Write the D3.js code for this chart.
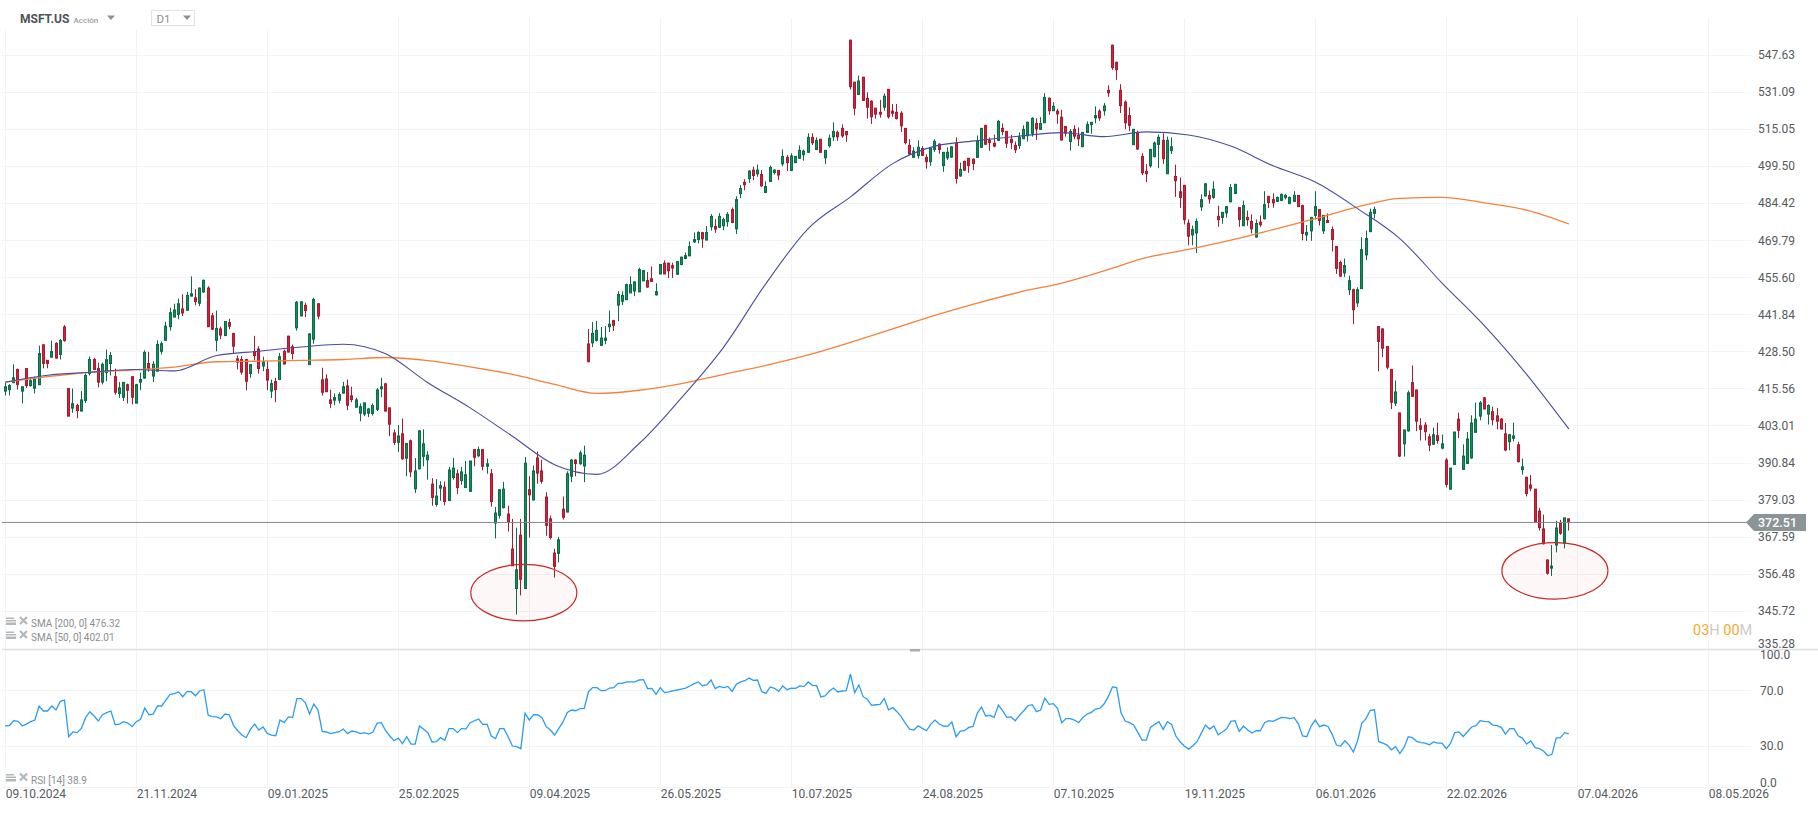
<!DOCTYPE html>
<html>
<head>
<meta charset="utf-8">
<title>MSFT.US D1</title>
<script src="https://cdn.jsdelivr.net/npm/d3@7"></script>
<style>
    html, body { margin: 0; padding: 0; background: #fff; }
    svg { display: block; }
    text { font-family: Roboto, sans-serif; }
    .grid line { stroke: #f2f3f4; shape-rendering: crispEdges; }
    .grid path { display: none; }
    .axis path { display: none; }
    .axis text { font-size: 12px; fill: #555b60; }
    .legend { font-size: 10px; fill: #8b8f92; }
</style>
</head>
<body>
<div id="chart"></div>
<script>

// Chart data
// ================================
var priceTicks = [547.63, 531.09, 515.05, 499.50, 484.42, 469.79, 455.60, 441.84, 428.50, 415.56, 403.01, 390.84, 379.03, 367.59, 356.48, 345.72, 335.28];
var rsiTicks = [100, 70, 30, 0];
var dateLabels = ["09.10.2024", "21.11.2024", "09.01.2025", "25.02.2025", "09.04.2025", "26.05.2025", "10.07.2025", "24.08.2025", "07.10.2025", "19.11.2025", "06.01.2026", "22.02.2026", "07.04.2026", "08.05.2026"];
var barsPerDateLabel = 31;

var opens = [414.8,415.3,417.7,422.3,414.8,422.6,416.7,415.8,417,431,
425.5,426.6,431.5,427.6,437.4,415.7,409,409.9,408,411.6,
420.9,425.8,422.6,417.9,421.2,424.4,419.8,414,412.7,417,
419.8,410.7,417.9,419.3,424.4,420,421.7,428.7,432.6,437.5,
441,442,444,443.5,448.7,448.1,446.1,450.3,451.7,441.5,
432.6,436.7,434.3,439,435.1,426,425.8,425.8,420.9,428.6,
429.5,423.5,422.3,414.8,418.1,418.8,428.7,434.1,430.3,437.1,
441.4,445.3,424,433,445.9,418.7,419,411.8,411.7,411.7,
414.1,416.6,413.2,409.3,407.3,407,407.3,407.2,408.6,415.6,
417.3,409.1,400.7,397.6,400.4,392.4,398.1,382.6,389,393,
391.9,384.1,377.7,382.8,383.1,378.9,386.2,387.4,385.2,383,
381.8,395.2,393.2,395.2,389.8,387.4,371.9,374.3,376.7,374.7,
364,352.3,368.2,352.3,382.3,379.1,392.5,388.3,380,373.2,
362.8,362.7,376.2,375.3,386.6,391.8,390.6,389.9,431.3,431.7,
432.6,430.8,432.6,437.5,439.7,445.4,446.8,447.4,449.9,450.6,
450.3,454.4,454.5,455.2,449.2,457,461.1,461.1,460.2,456.9,
460.6,462.9,463.9,469.3,470.2,472.9,470,475.2,475.3,475,
475.6,477.2,482,474.4,488.4,493,494.5,498,496.5,496.2,
488.9,493.4,497,497.9,500.6,503.3,497.9,501.1,502.9,504.4,
505.4,511.7,506.6,510.9,503.1,508.2,511.9,513.8,515.5,514.2,
554.5,535.6,530.2,537.8,528.5,527.2,524.2,522.4,524.6,532.4,
522.9,522.4,522,515.5,508.3,503.3,504,507,503.3,501.5,
506.6,508.8,499.9,503.1,503.4,509.2,495.6,501.6,502.9,502.5,
503.3,507.5,516.8,510.6,509.2,510.4,515.5,514.2,510.9,508.3,
508.2,511.1,512.4,513.4,517.6,515.1,517.9,528.5,523.1,522.9,
520.3,516.3,509.9,515.1,512.5,507.8,513.8,517.1,520,522.9,
523.1,532,552.2,544.5,532,526.8,521,508.6,513.4,503.7,
497.5,499.8,503.6,508.7,510.4,496.5,506.1,495.4,489.2,491.8,
476.6,472,472.8,483.1,487.5,487.7,486.9,479.3,478.9,480.7,
485.1,488.5,482.8,475.6,478.9,477.3,471.2,477,478.4,487.3,
486,485.3,485.7,486.8,484.4,485.3,487.7,483.6,472,473.6,
479.7,482,473.6,477.7,474.1,467.5,461.4,457.4,451.1,451.1,
446.2,451.5,464.3,473.3,480.5,437.6,436.7,430.4,422.3,410.7,
407.4,397.1,401.4,417.7,415.2,403.1,403.3,399.4,397,399.8,
395.7,391.8,382.5,390.4,405.3,388.8,390.7,392.5,400.9,406.3,
412.5,407,407.8,406.4,405.3,400.4,397.8,398.9,396.8,388.7,
386.3,383.8,382.5,375.6,370.1,360.7,358.3,365.2,371.9,365.8,
373.2];

var highs = [417.7,417.2,424.1,422.6,416.3,422.7,419.4,419.7,430.7,431.1,
425.6,432.5,431.9,433.1,438.1,415.7,415.7,410.5,414.8,420.9,
426.8,426.4,424.7,424.7,429.3,428.4,422.6,417.9,418,417.4,
419.8,417.3,421.2,429,428.5,425.2,432.6,432.2,439.3,444.4,
445.9,447.8,449.4,450.3,456.1,451.3,451.9,454.9,452.4,442.5,
443.4,437.5,439.4,440.4,435.1,427.2,427,426,424.1,434.2,
430.5,426.8,425.2,418.8,419.4,428.1,429.3,434.2,431.1,446.9,
446.8,446.3,435.1,448.1,446.1,422.9,420.6,415.3,414,414.4,
418,418.8,416.3,412.5,410.6,410.8,409.1,410.6,415.9,419.4,
417.7,409.1,401.8,403.3,405.5,397.4,398.5,392.5,401.6,401.9,
394.7,386,385.7,385,384.9,389.6,392.5,388.7,389.6,391.5,
391.5,395.2,396.2,395.2,392.3,388.9,376.9,382.5,384.8,377.3,
373.2,370.5,373.2,392.8,386.6,390,394.6,391.9,381.5,374.2,
364.1,367.7,380.2,388.2,392.1,392.1,394.9,396.5,436.7,439.2,
439.6,437.4,437.7,443.4,440,450.5,450.5,453.4,456.1,454.2,
459.4,458.4,457.8,459.9,453.5,460.6,462.2,461.3,461.3,462,
463.6,465.2,469.5,473,473.4,473.2,475.5,480.2,478.3,480.6,
478.8,481,482.8,487.4,491.9,494.3,498,499.4,500.3,498,
493.4,499.9,498.4,498,506.6,504.3,505,503.7,508.3,506.6,
513.4,513.4,511.7,510.9,506.2,512.9,518.1,514.6,517.2,514.2,
554.8,535.6,538.5,537.8,531.1,527.6,524.2,527.8,530.6,532.4,
526,526,522.9,515.5,510.9,507.5,510.4,508,504.6,507,
510.9,509.2,505.4,507.5,507.9,511.7,501.1,502,502.9,502.9,
512.5,515.5,516.8,511.7,512.9,519.1,517.6,514.3,512.7,509.9,
513.8,516.8,518.4,520.3,519.8,520.3,530.7,528.9,526.8,523.9,
523.5,516.3,515.2,516.8,515.9,513.8,518.5,518.1,525,523.7,
526.4,534.2,552.5,544.5,534.7,527.6,524.6,515.1,514.6,505,
500.5,506.6,509.9,512.9,513.4,512,511.7,500.3,495,491.8,
478.1,475.7,478.5,488.1,492.7,489.7,493.4,483.6,480.9,483.2,
492.3,492.2,482.8,485.6,481.6,480.1,478.1,479.7,489.4,487.3,
488.5,487.2,488.5,488.3,487.2,489.4,487.7,484,475.9,479.1,
489.4,482,479.7,480.5,475.3,467.5,462.1,462.9,456.4,451.5,
452,471.1,473.7,482.4,483.2,437.7,436.9,430.6,422.3,418.5,
407.4,401.7,415,423.7,415.3,405.6,404.3,400.4,402.5,404.1,
400.2,392.5,389.2,401,407.5,396.9,401,406.6,410.9,411.4,
412.8,410.3,409.5,409,405.7,404,400.4,404.1,397.8,392.3,
386.3,387,382.5,376.6,374.5,361,365.2,372.6,372.9,373.5,
373.3];

var lows = [413.3,413.3,417.7,415.3,410.6,415.9,416.3,414,417,422.7,
422.7,426.6,426.1,425.8,432.1,406.3,407.4,405.6,408,410.7,
420.2,422.1,416.1,417.1,418.2,420.2,413.6,412.5,411.4,410.6,
410.3,410.7,415.1,419.1,421.5,417.9,421.7,427.6,432.6,436.1,
441,440.2,441.4,443.5,448.7,445.3,445,449.9,437.5,436.3,
428.7,433,434.3,436.6,428.1,422.3,420.5,415.1,419.4,425.5,
420.9,421.7,415.1,412.4,411,418.6,424.1,428.4,425.8,436.1,
441.4,441,424,431.4,440.2,413.3,414.6,409,410,410.6,
414.1,408.3,411,409.3,404.6,406.3,406,406.5,408,412.7,
408,399.6,396.7,394.4,391.9,386.6,386.3,381.3,388.8,389.8,
385.5,377.3,377,378.8,377.4,378.9,385.5,381,383.9,383,
381.8,389.8,392.7,388.5,387.4,377,367.2,373.3,376.4,369.3,
359,344.8,350.3,352.3,367.5,378.9,384.2,384.2,368,366.9,
355.5,360,373,375.3,384.7,386.6,390.3,384.7,425,430.2,
432.2,430.8,431.2,435.6,435.9,439.5,445.4,447.2,449.9,448.7,
450.3,454.4,451.8,454,448.9,457,457,455.5,455.5,456.6,
460.3,462.6,463.9,468.9,468.7,467,470,473.7,472.8,474.7,
473.9,475.2,476.6,472.4,486.6,489.8,492.8,493.9,495.3,491.2,
488.6,493.1,496.2,493.9,499.6,497.6,497.6,500.9,502.6,501.9,
505.1,508.4,506.3,505.1,500.5,507.4,510.2,510.2,511.5,509.8,
532.4,521.1,529.9,527.3,519.7,517.4,519.7,520.1,523.1,519.7,
520.5,519.3,514,508.7,504.3,503.1,502.7,503.9,498.6,499.8,
505.5,504.8,497.3,502.2,503.1,492.5,495.3,497.7,496.9,498,
503,507.2,508.4,506,507.5,510.1,512.6,507.2,506.8,505.1,
506.8,511,509.9,512,510.6,514.8,517.9,521.3,523.1,517.5,
510.3,512,506.1,510.9,508,507.5,513.6,513.2,517.7,518.7,
521,529.1,541,536.6,522.1,515.2,514.3,508.6,506.4,496,
493.1,499,503.3,498.8,500.6,496.5,504.7,487.1,482.7,476.1,
468,468,465,481.5,487.3,484.4,486.3,475.2,476.4,478.8,
485.1,488.4,475.2,475.6,475.6,472.6,471,475.2,478.1,482.6,
482.7,485,485.4,486.1,484.2,485.1,483.1,469.9,469.7,469.7,
478.1,475.7,472.4,476.8,465.6,457,455.9,455.9,449.1,438.4,
444.7,451.4,462.3,473.1,478.5,421.7,426.6,422.3,408.7,409.7,
392.8,392.9,401.1,413,401.3,398.2,398.2,394.7,396.7,397.1,
395.3,383,382.3,390.2,399,388.8,390.7,392.2,400.8,404.9,
408.7,403.5,403.2,401.9,401.9,394.7,395,397.9,391,387.1,
380.2,381.8,371.9,369.6,365.4,356.4,356,363,368.3,364.2,
369.6];

var closes = [416.3,416.7,419.4,417.1,416.3,416.7,418.4,419.1,427.9,424.4,
424.4,428.6,426.3,432.5,432.5,406.3,410.5,408.2,411.8,420.2,
425.8,422.3,417.9,424.1,425.7,427.2,414.4,415.9,417.8,415.1,
412.7,417,418.8,428.3,422.7,424.1,431.1,431.4,437.7,442.6,
443.6,445.9,442.5,449,449.6,446.7,451.7,454.6,437.5,436.6,
436.9,434.5,439.4,437.7,430.5,424.9,421.4,418.2,424,427.2,
422.6,424.9,418.6,417.4,415.3,426.8,424.2,428.4,427.9,446.4,
446.6,443.4,434.9,447.5,441.4,414.4,414.6,410.6,412.6,413.6,
416.3,410,411.9,411.8,409.5,410.8,408.7,409.9,415.2,416.3,
408,403.6,397.6,399.7,392.2,397.2,388,388.3,401.4,397.1,
393.4,379.9,380.3,383.6,378.6,388.6,389.2,383,388,387.1,
391.5,392.7,395.2,389.8,390.6,378.6,375,382.3,382.5,372.3,
359,357.8,355,390.8,380.7,388.3,387.6,385,371.2,367.5,
358.8,366.8,373.7,387.4,391.8,390.7,394.1,393.4,425,435.1,
436.2,433.4,433.4,438.4,438,449.3,449,453,453,454,
458.7,458.3,452.1,454.2,450.4,460.6,457,458.2,459.3,461.7,
463.4,464,467.5,470.2,473,470.5,473,479.3,474.3,479.3,
478.1,480.1,476.9,486,490.5,492,497.6,495.8,498,491.6,
491.3,499.1,498,496,503.7,501.1,503.9,503.7,506.2,505.9,
511.7,509.4,510.4,505.4,506.2,511.3,514.2,511.9,512.3,512.8,
533.6,524.2,536.1,527.6,524.6,520.5,521.6,521.6,529.4,520.5,
522,519.7,516.6,509.5,504.7,505.9,507.5,504.1,501.5,507,
510,506.6,505.4,505.4,507.7,494.6,498.3,498,499.9,500.7,
510,515.5,508.8,509.5,508,518.5,514.2,509.2,509.5,506.5,
511.7,515.1,518.1,519.8,515.3,517.6,528.9,523.1,525,521.7,
510.6,513.5,514.2,512.2,511.1,513.8,517.2,518.1,521,520,
525.1,530.9,542.1,541.2,525.3,517.9,516.8,515.1,506.8,496.9,
496.5,506.6,509.3,511.7,502.7,510.4,507.7,493.7,486.9,478,
471.5,474.1,477.3,486,492.4,486.3,490.2,478,480.9,483.2,
490.9,492.2,478.1,483.6,478,474.4,476.5,476,484,484.8,
484.7,486.9,488.1,487.7,486.9,487.7,483.2,472.6,473,478.9,
483.2,477.7,479.7,476.9,470.2,459.1,456.2,460.2,454.5,443.7,
451.1,466.3,470.6,480.9,482,432.2,429.8,423.1,411,414.5,
393.1,401.7,414.2,413,404.6,401.9,401.1,396.7,400.1,398.2,
397.1,384,389.2,401,401.6,393.1,398.7,404,405.3,410.8,
408.7,409.9,405.1,404.6,402,395.1,400.1,399.7,391.3,389.6,
381.1,382.8,372.2,370.5,365.6,356.8,358.9,370.4,368.8,373.5,
372.4];

// Moving averages, one reading every ten bars
var smaStep = 10;
var sma200 = [417.9,419.8,421.3,422.1,423.1,425,425.2,425.5,425.8,426.5,425.4,
423.2,420.6,417.1,414,415.1,417.4,420.6,423.7,427.4,431.9,436.7,
441.6,446.1,450.2,453.6,458.2,463.2,466.4,470,474.1,478.4,483.1,486.5,486.9,484.7,481.8,476.32];
var sma50 = [417.9,420.3,421.3,422.3,421.8,427.2,428.7,430.2,431.2,427.8,417.7,
409.1,399.6,390.3,387.2,397.2,412.5,430.2,453.4,474.5,487.1,500.7,
508,510.3,512.2,513.7,512,514,512.7,508,499.8,493.1,482.4,470.6,453.6,437.9,420.6,402.01];

var rsi = [44.6,45.1,48.4,47.9,44.6,46,47.7,48.9,59,55.4,55.4,59,56.1,62.3,63.3,36.9,40.3,39.8,42.9,50.6,
54.9,51.8,48.2,52.7,54.2,55.4,45.5,46,47.7,46.7,44.1,47.7,49.4,57.5,52.7,53.2,59,59,63.3,67.4,
67.9,69.1,65.7,69.3,69.3,66.4,69.8,70.7,52.5,51.3,51.1,49.9,53.2,52.7,45.1,41.2,38.1,36.2,42.2,46,
41.7,43.9,39.3,38.1,37.6,48.9,47,51.1,50.8,64.3,64.3,61.4,53.2,60.4,56.1,40.7,40.3,39.1,39.8,40.5,
42.4,39.1,41,40.3,39.1,39.8,38.8,40.3,46.7,47,41.2,37.4,34,35.9,31.9,36.9,31.6,31.6,44.6,42.2,
39.8,33.1,33.3,36.2,34.3,42.7,42.7,39.8,42.9,42.4,47,48.4,49.6,45.8,46,37.4,35.5,42.7,42.7,36.9,
30.2,29.7,28.3,53.9,48.9,52.7,52.7,50.6,44.1,41.7,38.1,42.9,47.7,54.4,56.1,55.6,57.1,57.3,69.3,72.2,
72.2,70,70,71.9,72.2,75.3,75.3,76.3,76.3,76.3,77.7,78,71.5,71.7,67.4,72.2,68.6,69.1,69.8,70.5,
71.2,71.9,73.4,75.1,76.3,73.6,74.1,77.7,71.5,73.1,72.2,73.1,69.5,74.6,76.3,77.2,79.1,77.5,77.7,69.3,
68.1,72.7,71.7,69.5,73.4,70.7,71.9,71.7,73.4,72.9,76.3,73.9,73.6,65.5,66.2,69.8,71.9,69.1,69.8,70,
82,68.6,74.1,65.7,63.8,59.5,59.9,60.2,64.3,56.3,57.8,54.9,51.3,46.5,42.4,41.7,44.8,42.9,41.2,46,
48.9,46,44.6,44.3,47.5,36.9,41,41.2,43.6,44.3,53.7,58.3,51.8,52.3,50.8,59.7,55.6,50.8,51.1,48.4,
52.3,55.6,59.2,59.9,54.9,56.1,64.7,60.2,60.7,57.3,47,49.9,49.9,48.9,47,50.8,53.2,54.4,56.8,57.3,
60.4,65.7,72.7,72.2,54.2,48.2,47,45.3,40,34.5,34.5,43.6,45.8,47.7,42.2,47.7,45.8,37.4,33.3,30.2,
28,30.2,33.3,39.3,45.3,42.4,44.6,38.3,40.3,42.4,47.9,48.4,40.7,44.6,41.7,39.5,41.2,41.2,47,48.4,
47.9,49.4,50.8,50.6,49.9,50.6,46,37.4,36.9,44.6,48.9,44.1,45.3,44.3,38.6,30.9,30.2,34,30.9,25.9,
34,46.5,49.9,55.9,56.3,33.3,32.3,30.9,27.5,29.7,24.7,29.2,36.9,36.2,33.5,32.6,32.3,31.1,33.1,32.3,
32.3,28.3,32.1,39.8,40.3,37.1,40.5,43.9,44.8,48.4,47.9,47.7,45.3,44.8,43.6,38.8,42.7,42.7,37.6,35.9,
31.6,33.8,29,28.3,26.6,23.2,24.2,35.9,36.2,39.8,38.9];

var lastLineLevel = 372.1;
var lastPriceLabel = "372.51";

// The two marked lows: bar index and price at the centre of each ring
var ringBars = [122.7, 366.7];
var ringPrices = [351.1, 357.5];

// Set up the chart
// ================================
var svgWidth = 1818;
var svgHeight = 813;

var plotLeft = 2;
var plotRight = 1751;
var plotTop = 18;

var candleColors = { up: "#0f9159", upEdge: "#0a6d47", down: "#e01a38", downEdge: "#a81c30" };

var svg = d3.select("#chart")
    .append("svg")
    .attr("width", svgWidth)
    .attr("height", svgHeight);

// Scales
// ================================
var xScale = d3.scaleLinear()
    .domain([0, barsPerDateLabel * 13])
    .range([5.3, 5.3 + 131 * 13]);

var yScale = d3.scaleLog()
    .domain([335.28, 547.63])
    .range([648.4, 55.3]);

var rsiScale = d3.scaleLinear()
    .domain([0, 100])
    .range([788, 649]);

var dateTicks = dateLabels.map((d, i) => i * barsPerDateLabel);

// Grid
// ================================
var gridGroup = svg.append("g").attr("class", "grid");

gridGroup.selectAll(".v")
    .data(dateTicks)
    .enter()
    .append("line")
    .attr("x1", d => xScale(d))
    .attr("x2", d => xScale(d))
    .attr("y1", plotTop)
    .attr("y2", 788);

gridGroup.selectAll(".h")
    .data(priceTicks.slice(0, 16))
    .enter()
    .append("line")
    .attr("x1", plotLeft)
    .attr("x2", plotRight)
    .attr("y1", d => yScale(d))
    .attr("y2", d => yScale(d));

gridGroup.selectAll(".r")
    .data([70, 30, 0])
    .enter()
    .append("line")
    .attr("x1", plotLeft)
    .attr("x2", plotRight)
    .attr("y1", d => rsiScale(d) - (d === 0 ? 0.7 : 0))
    .attr("y2", d => rsiScale(d) - (d === 0 ? 0.7 : 0));

// Panel separator and its little handle
svg.append("line")
    .attr("x1", plotLeft)
    .attr("x2", svgWidth)
    .attr("y1", 649.5)
    .attr("y2", 649.5)
    .attr("stroke", "#dfe0e1")
    .attr("stroke-width", 1.5);

svg.append("rect")
    .attr("x", 910)
    .attr("y", 649)
    .attr("width", 10)
    .attr("height", 2.5)
    .attr("fill", "#a9acae");

// Candles
// ================================
var candleGroup = svg.append("g");

var candles = candleGroup.selectAll("g")
    .data(opens.map((d, i) => i))
    .enter()
    .append("g");

// Snap each candle to a whole pixel column
function barColumn(i) {
    return Math.floor(xScale(i));
}

candles.append("line")
    .attr("x1", i => barColumn(i) + 0.5)
    .attr("x2", i => barColumn(i) + 0.5)
    .attr("y1", i => yScale(highs[i]))
    .attr("y2", i => yScale(lows[i]))
    .attr("stroke", i => closes[i] >= opens[i] ? candleColors.upEdge : candleColors.downEdge)
    .attr("stroke-width", 1);

candles.append("rect")
    .attr("x", i => barColumn(i) - 0.5)
    .attr("width", 2)
    .attr("y", i => yScale(Math.max(opens[i], closes[i])))
    .attr("height", i => Math.max(1, Math.abs(yScale(opens[i]) - yScale(closes[i]))))
    .attr("fill", i => closes[i] >= opens[i] ? candleColors.up : candleColors.down)
    .attr("stroke", i => closes[i] >= opens[i] ? candleColors.upEdge : candleColors.downEdge)
    .attr("stroke-width", 1);

// Moving averages
// ================================
var smaLine = d3.line()
    .x((d, i) => xScale(i * smaStep))
    .y(d => yScale(d))
    .curve(d3.curveMonotoneX);

svg.append("path")
    .attr("d", smaLine(sma200))
    .attr("fill", "none")
    .attr("stroke", "#f5813c")
    .attr("stroke-width", 1.3);

svg.append("path")
    .attr("d", smaLine(sma50))
    .attr("fill", "none")
    .attr("stroke", "#484d9f")
    .attr("stroke-width", 1.1);

// Current price line and tag
// ================================
var lastY = yScale(lastLineLevel);

svg.append("line")
    .attr("x1", plotLeft)
    .attr("x2", 1747)
    .attr("y1", lastY)
    .attr("y2", lastY)
    .attr("stroke", "#83898d")
    .attr("stroke-width", 1);

// Rings around the two lows
// ================================
svg.selectAll(".ring")
    .data(ringBars)
    .enter()
    .append("ellipse")
    .attr("class", "ring")
    .attr("cx", d => xScale(d))
    .attr("cy", (d, i) => yScale(ringPrices[i]))
    .attr("rx", 53)
    .attr("ry", 28.2)
    .attr("fill", "#d32f2f")
    .attr("fill-opacity", 0.04)
    .attr("stroke", "#c62828")
    .attr("stroke-width", 1.2);

// RSI line
// ================================
var rsiLine = d3.line()
    .x((d, i) => xScale(i))
    .y(d => rsiScale(d));

svg.append("path")
    .attr("d", rsiLine(rsi))
    .attr("fill", "none")
    .attr("stroke", "#2b9cf2")
    .attr("stroke-width", 1.3);

// Axes
// ================================
var priceAxis = d3.axisRight(yScale)
    .tickValues(priceTicks)
    .tickFormat(d3.format(".2f"))
    .tickSize(0)
    .tickPadding(0);

var priceAxisGroup = svg.append("g")
    .attr("class", "axis")
    .attr("transform", "translate(1758, 0)")
    .call(priceAxis);

// the lowest label sits above the panel edge
priceAxisGroup.selectAll(".tick text")
    .attr("dy", d => d === 335.28 ? "-0.1em" : "0.28em");

var rsiAxis = d3.axisRight(rsiScale)
    .tickValues(rsiTicks)
    .tickFormat(d3.format(".1f"))
    .tickSize(0)
    .tickPadding(0);

var rsiAxisGroup = svg.append("g")
    .attr("class", "axis")
    .attr("transform", "translate(1760, 0)")
    .call(rsiAxis);

rsiAxisGroup.selectAll(".tick text")
    .attr("dy", d => d === 100 ? "0.78em" : (d === 0 ? "-0.12em" : "0.28em"));

var dateAxis = d3.axisBottom(xScale)
    .tickValues(dateTicks)
    .tickFormat((d, i) => dateLabels[i])
    .tickSize(0)
    .tickPadding(0);

svg.append("g")
    .attr("class", "axis")
    .attr("transform", "translate(0, 789.5)")
    .call(dateAxis)
    .selectAll("text")
    .attr("text-anchor", "start");

// Price tag on the axis
// ================================
svg.append("path")
    .attr("d", d3.line()([[1746, lastY], [1754, lastY - 8.5], [1806, lastY - 8.5], [1806, lastY + 8.5], [1754, lastY + 8.5]]) + "Z")
    .attr("fill", "#8b9598");

svg.append("text")
    .attr("x", 1758)
    .attr("y", lastY)
    .attr("dy", "0.35em")
    .attr("font-size", 12.5)
    .attr("font-weight", 500)
    .attr("fill", "#fff")
    .text(lastPriceLabel);

// Countdown
// ================================
var countdown = svg.append("text")
    .attr("x", 1693)
    .attr("y", 634.5)
    .attr("font-size", 14.5)
    .attr("fill", "#f9a825");

countdown.append("tspan").text("03");
countdown.append("tspan").attr("fill", "#c9cbcc").text("H ");
countdown.append("tspan").text("00");
countdown.append("tspan").attr("fill", "#c9cbcc").text("M");

// Header
// ================================
svg.append("rect")
    .attr("x", 0)
    .attr("y", 0)
    .attr("width", 300)
    .attr("height", 30)
    .attr("fill", "#fff");

svg.append("text")
    .attr("x", 20)
    .attr("y", 23)
    .attr("font-size", 12)
    .attr("font-weight", 700)
    .attr("fill", "#4b5459")
    .text("MSFT.US");

svg.append("text")
    .attr("x", 73.5)
    .attr("y", 22.5)
    .attr("font-size", 8)
    .attr("font-weight", 500)
    .attr("fill", "#9a9ea1")
    .text("Acción");

svg.append("rect")
    .attr("x", 151.5)
    .attr("y", 10.5)
    .attr("width", 43)
    .attr("height", 15)
    .attr("fill", "#fff")
    .attr("stroke", "#e2e3e4");

svg.append("text")
    .attr("x", 156.5)
    .attr("y", 23)
    .attr("font-size", 11.5)
    .attr("fill", "#8d9194")
    .text("D1");

svg.selectAll(".arrow")
    .data([111, 187])
    .enter()
    .append("path")
    .attr("class", "arrow")
    .attr("d", d => d3.line()([[d - 4, 15.5], [d + 4, 15.5], [d, 20]]) + "Z")
    .attr("fill", "#8d9194");

// Indicator legends
// ================================
function addLegend(y, label) {
    var group = svg.append("g");

    // stacked-lines icon
    [-4.5, -2, 0.5].forEach((dy, i) => {
        group.append("rect")
            .attr("x", 6)
            .attr("y", y + dy)
            .attr("width", i === 0 ? 8 : 10)
            .attr("height", i === 2 ? 2.5 : 1.5)
            .attr("fill", "#b4b7b9");
    });

    // close icon
    group.append("path")
        .attr("d", `M20,${y - 5}L27,${y + 2}M27,${y - 5}L20,${y + 2}`)
        .attr("stroke", "#b4b7b9")
        .attr("stroke-width", 2.2);

    svg.append("text")
        .attr("class", "legend")
        .attr("x", 31)
        .attr("y", y + 2)
        .attr("dy", "0.32em")
        .text(label);
}

addLegend(622, "SMA [200, 0] 476.32");
addLegend(636, "SMA [50, 0] 402.01");
addLegend(778.5, "RSI [14] 38.9");

</script>
</body>
</html>
